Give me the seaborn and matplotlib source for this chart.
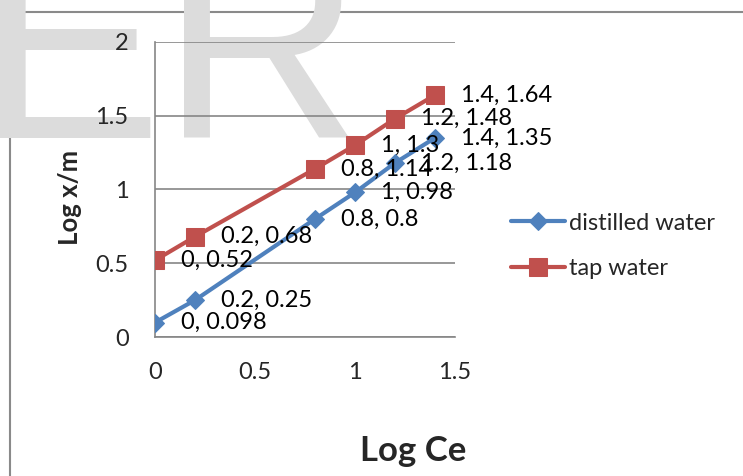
import matplotlib
matplotlib.use("Agg")
import matplotlib.pyplot as plt
import seaborn as sns
from matplotlib.lines import Line2D

log_ce = [0, 0.2, 0.8, 1, 1.2, 1.4]
distilled = [0.098, 0.25, 0.8, 0.98, 1.18, 1.35]
tap = [0.52, 0.68, 1.14, 1.3, 1.48, 1.64]
dist_labels = ["0, 0.098", "0.2, 0.25", "0.8, 0.8", "1, 0.98", "1.2, 1.18", "1.4, 1.35"]
tap_labels = ["0, 0.52", "0.2, 0.68", "0.8, 1.14", "1, 1.3", "1.2, 1.48", "1.4, 1.64"]
x_ticks = [0, 0.5, 1, 1.5]
y_ticks = [0, 0.5, 1, 1.5, 2]
x_tick_labels = ["0", "0.5", "1", "1.5"]
y_tick_labels = ["0", "0.5", "1", "1.5", "2"]

sns.set_style("white")
plt.rcParams['font.family'] = ['Lato', 'DejaVu Sans']

W, H = 743, 476
FS = 17
fig = plt.figure(figsize=(W / 100, H / 100), dpi=100)

# background layer: watermark + chart border
bg = fig.add_axes([0, 0, 1, 1], zorder=-5)
bg.set_xlim(0, W)
bg.set_ylim(H, 0)
bg.axis("off")
bg.text(-24, 138, "ER", fontsize=200, color="#dcdcdc",
        family="Liberation Sans", ha="left", va="baseline")
bg.add_line(Line2D([10, 10], [H + 5, 12], color="#8a8a8a", lw=1.5))
bg.add_line(Line2D([10, W + 5], [12, 12], color="#8a8a8a", lw=1.5))

ax = fig.add_axes([155 / W, (H - 337) / H, 300 / W, 295 / H], zorder=1)
ax.patch.set_alpha(0)

blue = "#4F81BD"
red = "#C0504D"

sns.lineplot(x=log_ce, y=distilled, ax=ax, color=blue, marker="D", markersize=9.5,
             markeredgecolor=blue, linewidth=3, label="distilled water", zorder=3)
sns.lineplot(x=log_ce, y=tap, ax=ax, color=red, marker="s", markersize=13,
             markeredgecolor=red, linewidth=3, label="tap water", zorder=3)

for xv, yv, t in zip(log_ce, distilled, dist_labels):
    ax.annotate(t, (xv, yv), xytext=(19, 0), textcoords="offset points",
                ha="left", va="center", fontsize=FS, color="black", zorder=5)
for xv, yv, t in zip(log_ce, tap, tap_labels):
    ax.annotate(t, (xv, yv), xytext=(19, 0), textcoords="offset points",
                ha="left", va="center", fontsize=FS, color="black", zorder=5)

ax.set_xlim(0, 1.5)
ax.set_ylim(0, 2)
ax.set_xticks(x_ticks)
ax.set_xticklabels(x_tick_labels)
ax.set_yticks(y_ticks)
ax.set_yticklabels(y_tick_labels)
ax.yaxis.grid(True, color="#868686", lw=1.2)
ax.xaxis.grid(False)
ax.set_axisbelow(True)
for s in ["top", "right"]:
    ax.spines[s].set_visible(False)
for s in ["left", "bottom"]:
    ax.spines[s].set_color("#868686")
    ax.spines[s].set_linewidth(1.2)
ax.tick_params(axis="x", direction="out", length=6, width=1.2, color="#868686",
               pad=12, labelsize=FS)
ax.tick_params(axis="y", direction="out", length=6, width=1.2, color="#868686",
               pad=13, labelsize=FS)

fig.text(70 / W, 1 - 197 / H, "Log x/m", rotation=90, fontsize=18.5, fontweight="bold",
         ha="center", va="center")
fig.text(413 / W, 1 - 461 / H, "Log Ce", fontsize=25, fontweight="bold",
         ha="center", va="baseline")

leg = ax.legend(loc="center left", bbox_to_anchor=(511 / W, 1 - 246 / H),
                bbox_transform=fig.transFigure, frameon=False, fontsize=FS,
                handlelength=2.3, handletextpad=0.17, labelspacing=1.05,
                borderpad=0, borderaxespad=0)

fig.savefig("out.png", dpi=100)
